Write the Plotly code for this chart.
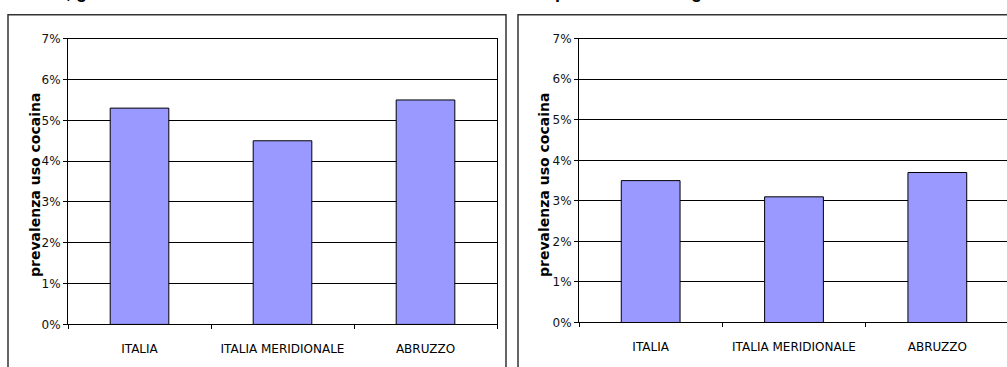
import plotly.graph_objects as go

# ---- data ----
categories = ["ITALIA", "ITALIA MERIDIONALE", "ABRUZZO"]
left_values = [5.3, 4.5, 5.5]      # % prevalenza (left panel)
right_values = [3.5, 3.1, 3.7]     # % prevalenza (right panel)
y_ticks = [0, 1, 2, 3, 4, 5, 6, 7]
y_tick_labels = ["0%", "1%", "2%", "3%", "4%", "5%", "6%", "7%"]
y_title = "prevalenza uso cocaina"
left_title = "Uso nella vita, giovani adulti"
right_title = "prevalenza in regione Abruzzo"

W, H = 1007, 367
def px(x):
    return x / W
def py(y):
    return 1 - y / H

BAR = "#9999FF"
FONT = "DejaVu Sans"

fig = go.Figure()
fig.add_trace(go.Bar(x=categories, y=left_values, width=0.41,
                     marker=dict(color=BAR, line=dict(color="black", width=1)),
                     xaxis="x", yaxis="y", showlegend=False, hoverinfo="skip"))
fig.add_trace(go.Bar(x=categories, y=right_values, width=0.41,
                     marker=dict(color=BAR, line=dict(color="black", width=1)),
                     xaxis="x2", yaxis="y2", showlegend=False, hoverinfo="skip"))

xcommon = dict(type="category", showline=True, linecolor="black", linewidth=1,
               ticks="outside", tickson="boundaries", ticklen=4, tickcolor="black",
               tickfont=dict(family=FONT, size=12, color="black"),
               showgrid=False, zeroline=False, fixedrange=True, ticklabelstandoff=13)
ycommon = dict(range=[0, 7], tickmode="array", tickvals=y_ticks, ticktext=y_tick_labels,
               showline=True, linecolor="black", linewidth=1,
               ticks="outside", ticklen=4, tickcolor="black",
               tickfont=dict(family=FONT, size=12, color="#111"),
               showgrid=True, gridcolor="black", gridwidth=1,
               zeroline=False, fixedrange=True)

fig.update_layout(
    width=W, height=H, autosize=False,
    margin=dict(l=0, r=0, t=0, b=0, pad=0),
    paper_bgcolor="white", plot_bgcolor="white",
    bargap=0.59,
    xaxis=dict(domain=[px(68), px(497)], range=[-0.5, 2.5], mirror=True,
               anchor="y", **xcommon),
    yaxis=dict(domain=[py(330), py(33)], anchor="x", mirror=True, **ycommon),
    xaxis2=dict(domain=[px(579), 1.0], range=[-0.5, -0.5 + 428 / (430 / 3)],
                mirror=True, anchor="y2", **xcommon),
    yaxis2=dict(domain=[py(328), py(33)], anchor="x2", mirror=False, **ycommon),
    shapes=[
        dict(type="rect", xref="paper", yref="paper",
             x0=px(8), x1=px(506), y0=py(8), y1=py(390),
             line=dict(color="#333333", width=1.5), layer="above"),
        dict(type="rect", xref="paper", yref="paper",
             x0=px(518), x1=px(1030), y0=py(8), y1=py(390),
             line=dict(color="#333333", width=1.5), layer="above"),
    ],
    annotations=[
        dict(text=y_title, textangle=-90, xref="paper", yref="paper",
             x=px(35), y=py(185), xanchor="center", yanchor="middle",
             showarrow=False, font=dict(family=FONT, size=14, color="black", weight="bold")),
        dict(text=y_title, textangle=-90, xref="paper", yref="paper",
             x=px(544), y=py(185), xanchor="center", yanchor="middle",
             showarrow=False, font=dict(family=FONT, size=14, color="black", weight="bold")),
        dict(text=left_title, xref="paper", yref="paper",
             x=px(-52), y=py(-3), xanchor="left", yanchor="bottom",
             showarrow=False,
             font=dict(family="Liberation Sans", size=18, color="black", weight="bold")),
        dict(text=right_title, xref="paper", yref="paper",
             x=px(553), y=py(-3), xanchor="left", yanchor="bottom",
             showarrow=False,
             font=dict(family="Liberation Sans", size=18, color="black", weight="bold")),
    ],
)

fig.write_html("out.html", config={"displayModeBar": False})
